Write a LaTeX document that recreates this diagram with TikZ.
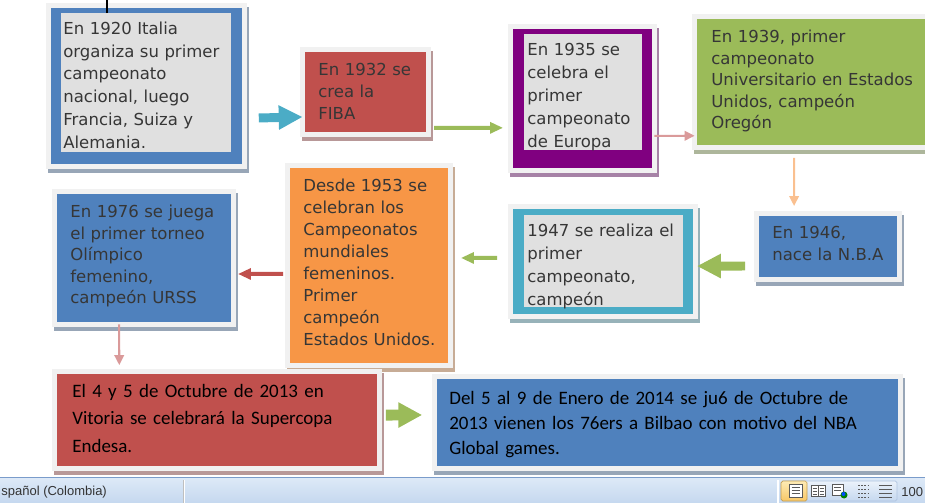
\documentclass[tikz,border=0pt]{standalone}
\usepackage{fontspec}
\setmainfont{DejaVu Sans}
\newfontfamily\handfont{Carlito}
\newfontfamily\barfont{Liberation Sans}
\usetikzlibrary{arrows.meta}
\definecolor{blueFill}{HTML}{4F81BD}
\definecolor{redFill}{HTML}{C0504D}
\definecolor{purpleFill}{HTML}{800080}
\definecolor{greenFill}{HTML}{9BBB59}
\definecolor{cyanFill}{HTML}{4BACC6}
\definecolor{orangeFill}{HTML}{F79646}
\definecolor{innerFill}{HTML}{E0E0E0}
\definecolor{frameFill}{HTML}{F1F1F1}
\definecolor{pinkStroke}{HTML}{DA9A9A}
\definecolor{peachStroke}{HTML}{FAC090}
\definecolor{textGray}{HTML}{363636}
\definecolor{barTop}{HTML}{DDE9F7}
\definecolor{barBottom}{HTML}{C5D8EF}
\definecolor{barLine}{HTML}{7A9CCB}
\definecolor{iconGray}{HTML}{5A5A5A}
\definecolor{hiTop}{HTML}{FDEBB5}
\definecolor{hiBottom}{HTML}{F8C766}

\begin{document}
\begin{tikzpicture}[x=0.02cm,y=-0.02cm,
  event/.style={rectangle,draw=frameFill,line width=2.7pt,fill=#1,inner sep=0pt,outer sep=0pt,
    preaction={fill=#1!40!gray!70!white,draw=#1!40!gray!70!white,transform canvas={xshift=1.1pt,yshift=-2.3pt}}},
  inner/.style={rectangle,fill=innerFill,inner sep=0pt,outer sep=0pt},
  note/.style={anchor=base west,inner sep=0pt,text width=5cm,align=left,text=textGray,font=\fontsize{9.4pt}{12.25pt}\selectfont},
  wide/.style={note,font=\fontsize{9.4pt}{13pt}\selectfont},
  hand/.style={anchor=base west,inner sep=0pt,text width=9cm,align=left,font=\handfont\fontsize{10.8pt}{#1}\selectfont},
  status/.style={anchor=west,inner sep=0pt,text=black!80,font=\barfont\fontsize{7.4pt}{9pt}\selectfont},
  block/.style={line width=5.1pt,-{Triangle[length=13.6pt,width=13pt]}},
  thin/.style={line width=2.3pt,-{Triangle[length=7.4pt,width=6.2pt]}},
  hair/.style={line width=1.2pt,-{Triangle[length=5.7pt,width=5.4pt]}}
]
\clip (0,0) rectangle (925,503);
% boxes of the timeline, top row left to right
\node[event=blueFill,minimum width=3.916cm,minimum height=3.216cm] (b1) at (146.5,86) {};
\node[inner,minimum width=3.4cm,minimum height=2.78cm] (g1) at (146,82.5) {};
\node[event=redFill,minimum width=2.516cm,minimum height=1.696cm] (b2) at (365.5,92) {};
\node[event=purpleFill,minimum width=2.876cm,minimum height=2.876cm] (b3) at (582.5,98.5) {};
\node[inner,minimum width=2.36cm,minimum height=2.32cm] (g3) at (583,92) {};
\node[event=greenFill,minimum width=4.956cm,minimum height=2.616cm] (b4) at (818.5,82) {};
% middle row, right to left
\node[event=blueFill,minimum width=2.856cm,minimum height=1.316cm] (b5) at (828,246.5) {};
\node[event=cyanFill,minimum width=3.696cm,minimum height=2.196cm] (b6) at (603,261.5) {};
\node[inner,minimum width=3.18cm,minimum height=1.84cm] (g6) at (603.5,261) {};
\node[event=orangeFill,minimum width=3.256cm,minimum height=3.996cm] (b7) at (369,265.5) {};
\node[event=blueFill,minimum width=3.576cm,minimum height=2.656cm] (b8) at (144,258) {};
% bottom row
\node[event=redFill,minimum width=6.496cm,minimum height=1.936cm] (b9) at (217,420) {};
\node[event=blueFill,minimum width=9.316cm,minimum height=1.836cm] (b10) at (667.5,422.5) {};

% connectors
\draw[black,line width=0.9pt] ([xshift=-22.1pt]g1.north) -- ++(0,-14);
\draw[block,cyanFill,shorten <=8.2pt] ([yshift=-18.4pt]b1.east) -- ([yshift=-14.2pt]b2.west);
\draw[thin,greenFill,shorten <=3.2pt,shorten >=4.3pt] ([yshift=-20.4pt]b2.east) -- ([yshift=-16.7pt]b3.west);
\draw[hair,pinkStroke] ([yshift=-21.3pt]b3.east) -- ([yshift=-30.6pt]b4.west);
\draw[hair,peachStroke,shorten <=6pt,shorten >=4.3pt] ([xshift=-13.9pt]b4.south) -- ([xshift=-19.3pt]b5.north);
\draw[block,greenFill,shorten <=6.6pt,shorten >=0.9pt] ([yshift=-11.1pt]b5.west) -- ([yshift=-2.6pt]b6.east);
\draw[thin,greenFill,shorten <=7.7pt,shorten >=6pt] ([yshift=2pt]b6.west) -- ([yshift=4.3pt]b7.east);
\draw[thin,redFill,shorten <=2.6pt,shorten >=2.6pt] ([yshift=-4.8pt]b7.west) -- ([yshift=-9.1pt]b8.east);
\draw[hair,pinkStroke,shorten >=3.7pt] ([xshift=-14.2pt]b8.south) -- ([xshift=-55.6pt]b9.north);
\draw[line width=6.2pt,greenFill,-{Triangle[length=13.6pt,width=13.6pt]},shorten <=3.7pt,shorten >=7.1pt] ([yshift=2.8pt]b9.east) -- ([yshift=4.3pt]b10.west);

% texts
\node[wide] (t1) at (63,34.3) {En 1920 Italia\\organiza su primer\\campeonato\\nacional, luego\\Francia, Suiza y\\Alemania.};
\node[note] (t2) at (318,76) {En 1932 se\\crea la\\FIBA};
\node[wide] (t3) at (527,56) {En 1935 se\\celebra el\\primer\\campeonato\\de Europa};
\node[note] (t4) at (711,42.7) {En 1939, primer\\campeonato\\Universitario en Estados\\Unidos, campeón\\Oregón};
\node[note] (t5) at (772,238.7) {En 1946,\\nace la N.B.A};
\node[wide] (t6) at (527,236.7) {1947 se realiza el\\primer\\campeonato,\\campeón};
\node[note,font=\fontsize{9.4pt}{12.5pt}\selectfont] (t7) at (303,192) {Desde 1953 se\\celebran los\\Campeonatos\\mundiales\\femeninos.\\Primer\\campeón\\Estados Unidos.};
\node[note] (t8) at (70,217.7) {En 1976 se juega\\el primer torneo\\Olímpico\\femenino,\\campeón URSS};
\node[hand=15.6pt] (t9) at (72,397.5) {El 4 y 5 de Octubre de 2013 en\\Vitoria se celebrará la Supercopa\\Endesa.};
\node[hand=14.5pt] (t10) at (449,404) {Del 5 al 9 de Enero de 2014 se ju6 de Octubre de\\2013 vienen los 76ers a Bilbao con motivo del NBA\\Global games.};

% status bar
\shade[top color=barTop,bottom color=barBottom] (0,478) rectangle (925,503);
\draw[barLine,line width=0.6pt] (0,477.5) -- (925,477.5);
\draw[white,line width=0.6pt] (184,480) -- (184,503);
\draw[black!25,line width=0.4pt] (183,480) -- (183,503);
\draw[black!25,line width=0.4pt] (777,480) -- (777,503);
\draw[white,line width=0.6pt] (778,480) -- (778,503);
\shade[top color=barTop!60!white,bottom color=barBottom,draw=barLine!60,rounded corners=1pt] (781,481) rectangle (897,501);
\shade[top color=hiTop,bottom color=hiBottom,draw=hiBottom!80!black,rounded corners=1pt] (781,481) rectangle (807,501);
% view buttons
\draw[iconGray,fill=white,line width=0.5pt] (789,484) rectangle (802,497);
\foreach \yy in {487.5,490.5,493.5} \draw[iconGray,line width=0.6pt] (791.5,\yy) -- (799.5,\yy);
\draw[iconGray,fill=white,line width=0.5pt] (811,485) rectangle (818,496) (818,485) rectangle (825,496);
\foreach \yy in {488,491,494} \draw[iconGray,line width=0.4pt] (812.5,\yy) -- (816.5,\yy) (819.5,\yy) -- (823.5,\yy);
\draw[iconGray,fill=white,line width=0.5pt] (832,484) rectangle (843,495);
\foreach \yy in {487,490} \draw[iconGray,line width=0.5pt] (834,\yy) -- (841,\yy);
\fill[green!50!black] (844,495) circle (3.5);
\fill[blue!70!cyan] (843.5,494) circle (2);
\foreach \yy in {485,489,493,497} \draw[iconGray,line width=0.5pt,dash pattern=on 1pt off 0.8pt] (858,\yy) -- (868,\yy);
\foreach \yy in {485.5,489.5,493.5,497.5} \draw[iconGray,line width=1pt] (879,\yy) -- (892,\yy);
\node[status] (lang) at (1,492) {spañol (Colombia)};
\node[status] (zoom) at (901,492) {100};
\end{tikzpicture}
\end{document}
